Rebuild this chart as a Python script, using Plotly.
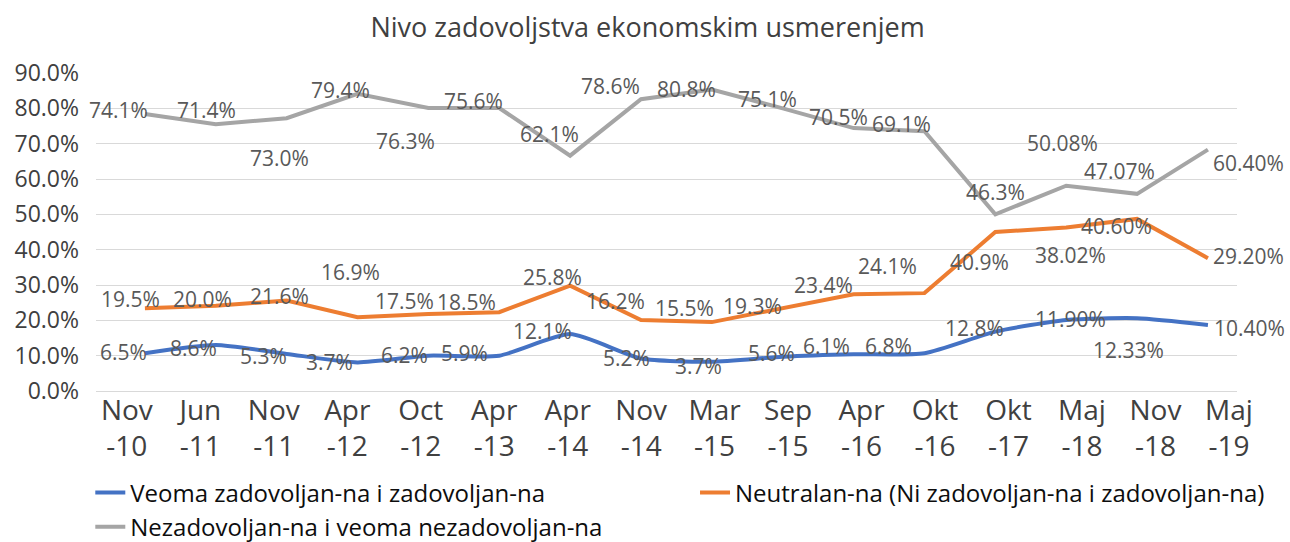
import plotly.graph_objects as go

# categories (survey rounds)
months = ["Nov", "Jun", "Nov", "Apr", "Oct", "Apr", "Apr", "Nov",
          "Mar", "Sep", "Apr", "Okt", "Okt", "Maj", "Nov", "Maj"]
years = ["-10", "-11", "-11", "-12", "-12", "-13", "-14", "-14",
         "-15", "-15", "-16", "-16", "-17", "-18", "-18", "-19"]

# line values as drawn in the chart (percent)
satisfied = [10.7, 13.0, 10.5, 8.1, 10.0, 10.0, 16.1, 9.2,
             8.3, 9.7, 10.4, 10.7, 16.8, 20.1, 20.6, 18.7]
neutral = [23.4, 24.1, 25.6, 20.9, 21.8, 22.3, 29.8, 20.1,
           19.5, 23.4, 27.4, 27.7, 45.0, 46.3, 48.7, 37.6]
dissatisfied = [78.4, 75.5, 77.2, 84.1, 80.1, 80.1, 66.6, 82.6,
                85.3, 80.0, 74.4, 73.5, 50.0, 58.1, 55.8, 68.3]

# data label texts shown next to the points
satisfied_lbl = ["6.5%", "8.6%", "5.3%", "3.7%", "6.2%", "5.9%", "12.1%", "5.2%",
                 "3.7%", "5.6%", "6.1%", "6.8%", "12.8%", "11.90%", "12.33%", "10.40%"]
neutral_lbl = ["19.5%", "20.0%", "21.6%", "16.9%", "17.5%", "18.5%", "25.8%", "16.2%",
               "15.5%", "19.3%", "23.4%", "24.1%", "40.9%", "38.02%", "40.60%", "29.20%"]
dissatisfied_lbl = ["74.1%", "71.4%", "73.0%", "79.4%", "76.3%", "75.6%", "62.1%", "78.6%",
                    "80.8%", "75.1%", "70.5%", "69.1%", "46.3%", "50.08%", "47.07%", "60.40%"]

names = ["Veoma zadovoljan-na i zadovoljan-na",
         "Neutralan-na (Ni zadovoljan-na i zadovoljan-na)",
         "Nezadovoljan-na i veoma nezadovoljan-na"]

# label pixel offsets (dx, dy) from each point
sat_off = [(-21, 1), (-22, -3), (-23, -2), (-28, 0), (-24, 1), (-35, 3), (-28, 3), (-14, 0),
           (-13, -4), (-11, 4), (-27, 8), (-36, 7), (-21, 4), (4, 1), (-9, -32), (42, -3)]
neu_off = [(-14, 9), (-13, 7), (-7, 5), (-7, 45), (-24, 13), (-33, 10), (-18, 9), (-25, 19),
           (-27, 14), (-30, 2), (-30, 9), (-37, 27), (-16, -30), (4, -28), (-21, -7), (41, 2)]
dis_off = [(-26, 4), (-9, 14), (-7, -40), (-17, 4), (-23, -33), (-26, 7), (-21, 22), (-30, 13),
           (-25, 1), (-15, 9), (-15, 11), (-23, 7), (0, 22), (-4, 43), (-18, 23), (41, -13)]

FONT = "Open Sans, Noto Sans, sans-serif"
colors = ["#4472C4", "#ED7D31", "#A5A5A5"]
legends = ["legend", "legend2", "legend"]
idx = list(range(len(months)))

fig = go.Figure()
series = [satisfied, neutral, dissatisfied]
for i, vals in enumerate(series):
    fig.add_trace(go.Scatter(
        x=idx, y=vals, name=names[i], mode="lines", legend=legends[i],
        line=dict(color=colors[i], width=4,
                  shape="spline" if i == 0 else "linear", smoothing=0.6),
        hoverinfo="skip"
    ))

# empty trace so the category label axis gets drawn
fig.add_trace(go.Scatter(x=idx, y=[None] * len(idx), xaxis="x2",
                         showlegend=False, hoverinfo="skip"))

annotations = []
for vals, lbls, offs in [(satisfied, satisfied_lbl, sat_off),
                         (neutral, neutral_lbl, neu_off),
                         (dissatisfied, dissatisfied_lbl, dis_off)]:
    for j in idx:
        annotations.append(dict(
            x=j, y=vals[j], text=lbls[j], showarrow=False,
            xshift=offs[j][0], yshift=offs[j][1],
            font=dict(family=FONT, size=21, color="#595959")
        ))

legend_font = dict(family=FONT, size=24, color="#0d0d0d")

fig.update_layout(
    width=1290, height=542,
    margin=dict(l=96, r=53, t=73, b=151, autoexpand=False),
    paper_bgcolor="white", plot_bgcolor="white",
    title=dict(text="Nivo zadovoljstva ekonomskim usmerenjem",
               x=0.502, xanchor="center", y=0.95, yanchor="middle",
               font=dict(family=FONT, size=27, color="#404040")),
    xaxis=dict(range=[-0.69, 15.41], showticklabels=False, showgrid=False,
               zeroline=False, fixedrange=True),
    xaxis2=dict(overlaying="x", anchor="y", side="bottom",
                range=[-0.42, 15.11], tickmode="array", tickvals=idx,
                ticktext=[m + "<br>" + y for m, y in zip(months, years)],
                showgrid=False, zeroline=False, ticks="",
                tickfont=dict(family=FONT, size=28, color="#404040")),
    yaxis=dict(range=[0, 90], dtick=10, tickformat=".1f", ticksuffix="%",
               showgrid=True, gridcolor="#D9D9D9", gridwidth=1,
               zeroline=True, zerolinecolor="#D9D9D9", zerolinewidth=1,
               ticklabelstandoff=16,
               tickfont=dict(family=FONT, size=23, color="#404040")),
    legend=dict(orientation="v", x=-0.005, xanchor="left", y=-0.25, yanchor="top",
                font=legend_font, itemwidth=30, tracegroupgap=0,
                bgcolor="rgba(0,0,0,0)"),
    legend2=dict(orientation="v", x=0.525, xanchor="left", y=-0.25, yanchor="top",
                 font=legend_font, itemwidth=30, bgcolor="rgba(0,0,0,0)"),
    annotations=annotations,
    showlegend=True,
)

fig.write_html("out.html", config={"displayModeBar": False},
               post_script="document.body.style.margin='0';document.body.style.overflow='hidden';")
